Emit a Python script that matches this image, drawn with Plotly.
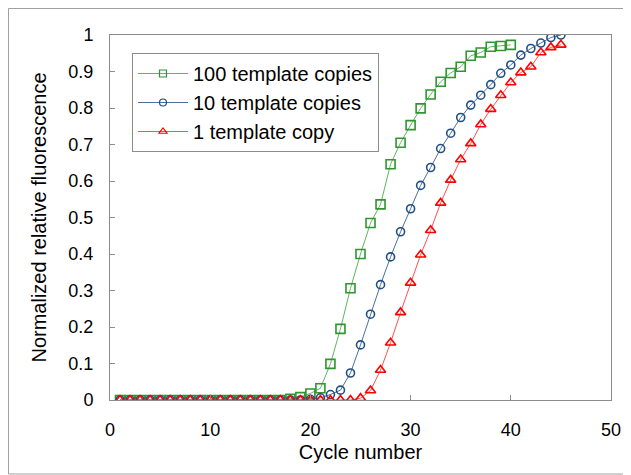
import plotly.graph_objects as go

cycles_100 = list(range(1, 41))
cycles_10 = list(range(1, 46))
cycles_1 = list(range(1, 46))

vals_100 = [0]*17 + [0.003, 0.008, 0.018, 0.032, 0.099, 0.195, 0.306, 0.400, 0.485, 0.536,
                     0.646, 0.705, 0.753, 0.799, 0.837, 0.872, 0.896, 0.913, 0.943, 0.952,
                     0.968, 0.970, 0.973]
vals_10 = [0]*19 + [0.002, 0.006, 0.015, 0.027, 0.074, 0.151, 0.235, 0.316, 0.392, 0.461,
                    0.524, 0.588, 0.637, 0.689, 0.731, 0.774, 0.808, 0.835, 0.864, 0.895,
                    0.918, 0.945, 0.963, 0.978, 0.993, 1.0]
vals_1 = [0]*24 + [0.005, 0.026, 0.082, 0.157, 0.240, 0.321, 0.398, 0.465, 0.540, 0.603,
                   0.659, 0.703, 0.755, 0.797, 0.835, 0.870, 0.897, 0.913, 0.952, 0.966, 0.973]

names = ["100 template copies", "10 template copies", "1 template copy"]
colors = ["#2E962E", "#1F4E86", "#FF0000"]
line_colors = ["#5DB85D", "#4A6FA0", "#FF5050"]
symbols = ["square-open", "circle-open", "triangle-up-open"]
sizes = [9, 8, 9]

fig = go.Figure()
series = [(cycles_100, vals_100), (cycles_10, vals_10), (cycles_1, vals_1)]
for i, (xs, ys) in enumerate(series):
    fig.add_trace(go.Scatter(
        x=xs, y=ys, name=names[i], mode="lines+markers", showlegend=False,
        line=dict(color=line_colors[i], width=1),
        marker=dict(symbol=symbols[i], size=sizes[i], color=colors[i],
                    line=dict(width=1.6, color=colors[i])),
    ))
# legend entries (smaller legend markers)
for i in range(3):
    fig.add_trace(go.Scatter(
        x=[None], y=[None], name=names[i], mode="lines+markers",
        line=dict(color=line_colors[i], width=1),
        marker=dict(symbol=symbols[i], size=7, color=colors[i],
                    line=dict(width=1.2, color=colors[i])),
    ))

font = "Liberation Sans, Arial, sans-serif"
axcol = "#8C8C8C"
L, T, PW, PH = 102, 27, 501, 365
fig.update_layout(
    width=631, height=475,
    margin=dict(l=L, r=631 - L - PW, t=T, b=475 - T - PH),
    paper_bgcolor="white", plot_bgcolor="white",
    font=dict(family=font, size=18, color="black"),
    showlegend=True,
    legend=dict(x=(124 - L) / PW, y=(T + PH - 45) / PH, xanchor="left", yanchor="top",
                bordercolor=axcol, borderwidth=1, bgcolor="white", itemwidth=50,
                font=dict(size=20), tracegroupgap=0),
    xaxis=dict(range=[0, 50], tickvals=[0, 10, 20, 30, 40, 50], ticks="inside", ticklen=5,
               tickcolor=axcol, showline=True, linecolor=axcol, linewidth=1, mirror=True,
               showgrid=False, zeroline=False, ticklabelstandoff=13,
               tickfont=dict(size=18),
               title=dict(text="Cycle number", font=dict(size=20), standoff=6)),
    yaxis=dict(range=[0, 1], tickvals=[i/10 for i in range(11)],
               ticktext=["0", "0.1", "0.2", "0.3", "0.4", "0.5", "0.6", "0.7", "0.8", "0.9", "1"],
               ticks="inside", ticklen=5, tickcolor=axcol, showline=True, linecolor=axcol,
               linewidth=1, mirror=True, showgrid=False, zeroline=False, ticklabelstandoff=12,
               tickfont=dict(size=18),
               title=dict(text="Normalized relative fluorescence", font=dict(size=20), standoff=16)),
    shapes=[dict(type="rect", xref="paper", yref="paper",
                 x0=(0.5 - L) / PW, x1=(640 - L) / PW,
                 y0=(T + PH - 466) / PH, y1=(T + PH - 0.5) / PH,
                 line=dict(color="#A0A0A0", width=1), layer="below")],
)
fig.write_html("out.html")
